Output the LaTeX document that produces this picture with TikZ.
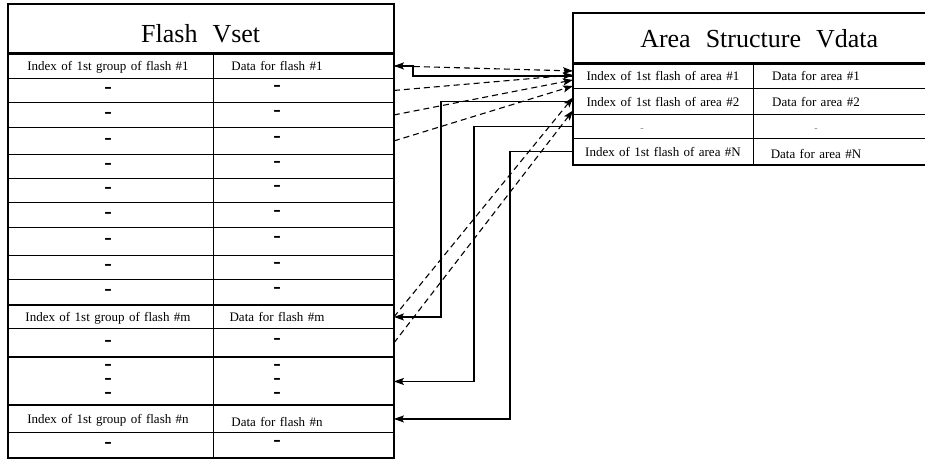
\documentclass[tikz,border=0pt]{standalone}
\usepackage{fontspec}
\setmainfont{Liberation Serif}
\newfontfamily\dashfont{DejaVu Sans}
\usetikzlibrary{arrows.meta}
\newcommand\ttlfont{\fontsize{26}{30}\selectfont\spaceskip=15pt\relax}
\newcommand\cellfont{\fontsize{13}{15}\selectfont\spaceskip=4.4pt\relax}

\begin{document}
\begin{tikzpicture}[
    x=1pt, y=-1pt,
    tbl-row/.style = {draw, line width=0.9pt, inner sep=0pt, anchor=north west},
    f-row/.style = {tbl-row, minimum width=385pt},
    a-row/.style = {tbl-row, minimum width=372pt},
    tbl-edge/.style = {line width=2.2pt},
    ttl/.style = {inner sep=0pt, anchor=north west, font=\ttlfont},
    txt/.style = {inner sep=0pt, text height=10pt, text depth=0pt, font=\cellfont},
    dsh/.style = {inner sep=0pt, align=center, font=\dashfont\fontsize{15}{14}\selectfont\bfseries},
    ptr/.style = {-{Stealth[length=10pt,width=7pt,inset=2pt]}, line width=1.2pt},
    bk-ptr/.style = {-{Stealth[length=10pt,width=7pt,inset=2pt]}, line width=1.1pt, dash pattern=on 6pt off 4pt}
  ]
  \useasboundingbox (0,0) rectangle (925,459);

  \coordinate (fdiv) at (213,0);
  \coordinate (cl) at (108,0);
  \coordinate (cr) at (277,0);
  \coordinate (adiv) at (753,0);
  \coordinate (al) at (663,0);
  \coordinate (ar) at (816,0);
  \coordinate (ad) at (642,0);

  % flash table
  \node[ttl, minimum width=385pt, minimum height=49pt, text height=27pt] (ft) at (8,4) {Flash Vset};
  \foreach \n/\t/\h in {1/53/25pt, 2/78/24pt, 3/102/25pt, 4/127/27pt, 5/154/24pt,
      6/178/24pt, 7/202/25pt, 8/227/28pt, 9/255/24pt, 10/279/26pt, 11/305/23pt,
      12/328/29pt, 13/357/48pt, 14/405/27pt, 15/432/25pt}
    \node[f-row, minimum height=\h] (f\n) at (8,\t) {};
  \draw[line width=0.9pt] (f1.north -| fdiv) -- (f15.south -| fdiv);
  \draw[tbl-edge] (ft.north west) rectangle (f15.south east);
  \draw[tbl-edge] (ft.south west) -- (ft.south east);
  \foreach \n in {11,13,14}
    \draw[tbl-edge] (f\n.north west) -- (f\n.north east);

  \node[txt] (fi1) at (f1 -| cl) {Index of 1st group of flash \#1};
  \node[txt] (fd1) at (f1 -| cr) {Data for flash \#1};
  \node[txt] (fim) at (f11 -| cl) {Index of 1st group of flash \#m};
  \node[txt] (fdm) at (f11 -| cr) {Data for flash \#m};
  \node[txt] (fin) at (f14 -| cl) {Index of 1st group of flash \#n};
  \node[txt, yshift=-3pt] (fdn) at (f14 -| cr) {Data for flash \#n};
  \foreach \n in {2,...,10,12,15} {
    \node[dsh] (fil\n) at (f\n -| cl) {–};
    \node[dsh, yshift=2pt] (fdl\n) at (f\n -| cr) {–};
  }
  \node[dsh] (fil13) at (f13 -| cl) {–\\–\\–};
  \node[dsh] (fdl13) at (f13 -| cr) {–\\–\\–};

  % area table
  \node[ttl, minimum width=372pt, minimum height=50pt] (at) at (573,13) {Area Structure Vdata};
  \foreach \n/\t/\h in {1/63/25pt, 2/88/26pt, 3/114/24pt, 4/138/26pt}
    \node[a-row, minimum height=\h] (a\n) at (573,\t) {};
  \draw[line width=0.9pt] (a1.north -| adiv) -- (a4.south -| adiv);
  \draw[tbl-edge] (at.north west) rectangle (a4.south east);
  \draw[tbl-edge] (at.south west) -- (at.south east);

  \node[txt] (ai1) at (a1 -| al) {Index of 1st flash of area \#1};
  \node[txt] (ad1) at (a1 -| ar) {Data for area \#1};
  \node[txt] (ai2) at (a2 -| al) {Index of 1st flash of area \#2};
  \node[txt] (ad2) at (a2 -| ar) {Data for area \#2};
  \node[txt, text=gray, font=\fontsize{10}{12}\selectfont] (ai3) at (a3 -| ad) {-};
  \node[txt, text=gray, font=\fontsize{10}{12}\selectfont] (ad3) at (a3 -| ar) {-};
  \node[txt] (aiN) at (a4 -| al) {Index of 1st flash of area \#N};
  \node[txt, yshift=-2pt] (adN) at (a4 -| ar) {Data for area \#N};

  % pointers
  \draw[ptr] (a1.west) -| ([xshift=19pt]f1.east) -- (f1.east);
  \draw[ptr] (a2.west) -| ([xshift=47pt]f11.east) -- (f11.east);
  \draw[ptr] (a3.west) -| ([xshift=80pt]f13.east) -- (f13.east);
  \draw[ptr] (a4.west) -| ([xshift=116pt]f14.east) -- (f14.east);

  \draw[bk-ptr] (f1.east) -- ([yshift=5pt]a1.west);
  \draw[bk-ptr] (f2.east) -- ([yshift=1pt]a1.west);
  \draw[bk-ptr] (f3.east) -- ([yshift=-4pt]a1.west);
  \draw[bk-ptr] (f4.east) -- ([yshift=-10pt]a1.west);
  \draw[bk-ptr] (f11.east) -- ([yshift=4pt]a2.west);
  \draw[bk-ptr] (f12.east) -- ([yshift=-9pt]a2.west);
\end{tikzpicture}
\end{document}
